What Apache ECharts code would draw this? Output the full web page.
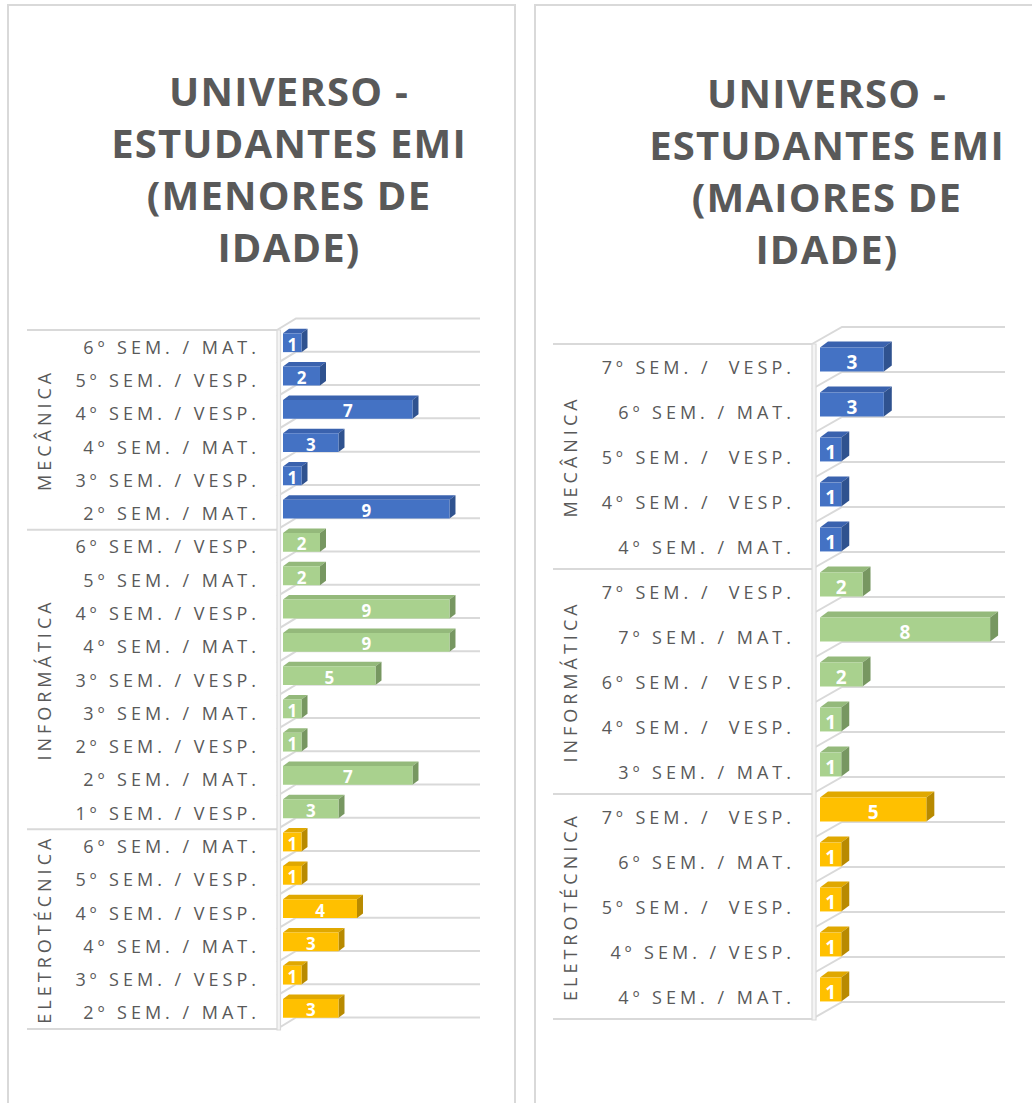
<!DOCTYPE html>
<html lang="pt">
<head>
<meta charset="UTF-8">
<title>Universo - Estudantes EMI</title>
<script src="https://cdn.jsdelivr.net/npm/echarts/dist/echarts.min.js"></script>
<style>
    body { margin: 0; background: #fff; }
    .panel { position: absolute; top: 4px; height: 1140px; border: 2px solid #d9d9d9; box-sizing: border-box; }
    #p1 { left: 7px; width: 509px; }
    #p2 { left: 534px; width: 530px; }
    #main { position: absolute; left: 0; top: 0; width: 1032px; height: 1103px; }
    /* spaced lettering like the Excel labels */
    #main text { letter-spacing: 4px; white-space: pre; }
    #main text[style*="bold"] { letter-spacing: 0; }
    #main text[style*="40px"] { letter-spacing: 1.2px; }
</style>
</head>
<body>
<div class="panel" id="p1"></div>
<div class="panel" id="p2"></div>
<div id="main"></div>
<script type="text/javascript">
    // menores de idade
    var leftCategories = ['6º SEM. / MAT.', '5º SEM. / VESP.', '4º SEM. / VESP.', '4º SEM. / MAT.', '3º SEM. / VESP.', '2º SEM. / MAT.',
        '6º SEM. / VESP.', '5º SEM. / MAT.', '4º SEM. / VESP.', '4º SEM. / MAT.', '3º SEM. / VESP.', '3º SEM. / MAT.',
        '2º SEM. / VESP.', '2º SEM. / MAT.', '1º SEM. / VESP.',
        '6º SEM. / MAT.', '5º SEM. / VESP.', '4º SEM. / VESP.', '4º SEM. / MAT.', '3º SEM. / VESP.', '2º SEM. / MAT.'];
    var leftValues = [1, 2, 7, 3, 1, 9, 2, 2, 9, 9, 5, 1, 1, 7, 3, 1, 1, 4, 3, 1, 3];
    var leftGroupSizes = [6, 9, 6];

    // maiores de idade
    var rightCategories = ['7º SEM. /  VESP.', '6º SEM. / MAT.', '5º SEM. /  VESP.', '4º SEM. /  VESP.', '4º SEM. / MAT.',
        '7º SEM. /  VESP.', '7º SEM. / MAT.', '6º SEM. /  VESP.', '4º SEM. /  VESP.', '3º SEM. / MAT.',
        '7º SEM. /  VESP.', '6º SEM. / MAT.', '5º SEM. /  VESP.', '4º SEM. / VESP.', '4º SEM. / MAT.'];
    var rightValues = [3, 3, 1, 1, 1, 2, 8, 2, 1, 1, 5, 1, 1, 1, 1];
    var rightGroupSizes = [5, 5, 5];

    var groupNames = ['MECÂNICA', 'INFORMÁTICA', 'ELETROTÉCNICA'];
    var leftTitle = 'UNIVERSO -\nESTUDANTES EMI\n(MENORES DE\nIDADE)';
    var rightTitle = 'UNIVERSO -\nESTUDANTES EMI\n(MAIORES DE\nIDADE)';

    var palette = [
        {front: '#4472C4', top: '#3A62AE', side: '#2F528F'},
        {front: '#A9D18E', top: '#94B97B', side: '#779761'},
        {front: '#FFC000', top: '#E0A800', side: '#B88A00'}
    ];
    var textColor = '#595959';
    var font = 'Open Sans';

    function makeRender(cfg, groupSizes) {
        var starts = [], acc = 0;
        groupSizes.forEach(function (n) { starts.push(acc); acc += n; });
        var total = acc;
        function groupOf(i) {
            var g = 0;
            while (g + 1 < starts.length && i >= starts[g + 1]) g++;
            return g;
        }
        return function (params, api) {
            var i = api.value(1);
            var v = api.value(0);
            var base = api.coord([0, i]);
            var end = api.coord([v, i]);
            var band = api.size([0, 1])[1];
            var cs = params.coordSys;
            var x0 = base[0], yc = base[1], x1 = end[0];
            var right = cs.x + cs.width;
            var wallX = x0 - cfg.wallGap - cfg.wallW;
            var g = groupOf(i);
            var col = palette[g];
            var kids = [];
            var line = {stroke: '#d9d9d9', lineWidth: 2, fill: null};

            function gridAt(yb) {
                kids.push({type: 'polyline', z2: 1, style: line,
                    shape: {points: [[wallX, yb], [x0 + cfg.wallDx, yb - cfg.wallDy], [right, yb - cfg.wallDy]]}});
            }
            function sepAt(yb) {
                kids.push({type: 'line', z2: 1, style: line,
                    shape: {x1: cfg.sepLeft, y1: yb, x2: wallX, y2: yb}});
            }
            var yTop = yc - band / 2, yBot = yc + band / 2;
            if (i === 0) {
                gridAt(yTop);
                kids.push({type: 'rect', z2: 2,
                    shape: {x: wallX, y: cs.y, width: cfg.wallW, height: cs.height + 1},
                    style: {fill: '#f4f4f4', stroke: '#d9d9d9', lineWidth: 1.2}});
            }
            gridAt(yBot);
            if (starts.indexOf(i) >= 0) {
                sepAt(yTop);
                kids.push({type: 'text', z2: 3, x: cfg.groupX, y: yTop + groupSizes[g] * band / 2,
                    rotation: Math.PI / 2,
                    style: {text: groupNames[g], fill: textColor, fontSize: 18, fontFamily: font,
                        textAlign: 'center', textVerticalAlign: 'middle'}});
            }
            if (i === total - 1) sepAt(yBot);

            // 3D bar: top face, side face, front face
            var top = yc - cfg.faceUp * band, bot = yc + cfg.faceDown * band;
            var dx = cfg.depthX, dy = cfg.depthY;
            kids.push({type: 'polygon', z2: 10, style: {fill: col.top},
                shape: {points: [[x0, top], [x0 + dx, top - dy], [x1 + dx, top - dy], [x1, top]]}});
            kids.push({type: 'polygon', z2: 10, style: {fill: col.side},
                shape: {points: [[x1, top], [x1 + dx, top - dy], [x1 + dx, bot - dy], [x1, bot]]}});
            kids.push({type: 'rect', z2: 11, style: {fill: col.front},
                shape: {x: x0, y: top, width: x1 - x0, height: bot - top}});
            kids.push({type: 'text', z2: 12, x: (x0 + x1) / 2, y: (top + bot) / 2 + cfg.labelDy,
                style: {text: String(v), fill: '#fff', fontSize: cfg.labelSize, fontWeight: 'bold',
                    fontFamily: font, textAlign: 'center', textVerticalAlign: 'middle'}});
            return {type: 'group', children: kids};
        };
    }

    var leftCfg = {sepLeft: 27, groupX: 43.5, wallGap: 2.5, wallW: 3.5, wallDx: 13, wallDy: 11.5,
        faceUp: 0.40, faceDown: 0.165, depthX: 6, depthY: 4.5, labelDy: 1.5, labelSize: 17};
    var rightCfg = {sepLeft: 553, groupX: 569.5, wallGap: 4, wallW: 4, wallDx: 22, wallDy: 17,
        faceUp: 0.42, faceDown: 0.11, depthX: 8, depthY: 6, labelDy: 2, labelSize: 19};

    function catAxis(idx, cats, margin) {
        return {
            type: 'category', gridIndex: idx, inverse: true, data: cats,
            axisLine: {show: false}, axisTick: {show: false}, splitLine: {show: false},
            axisLabel: {interval: 0, margin: margin, color: textColor, fontSize: 18, fontFamily: font}
        };
    }
    function valAxis(idx, max) {
        return {type: 'value', gridIndex: idx, min: 0, max: max, show: false, splitLine: {show: false}};
    }

    var myChart = echarts.init(document.getElementById('main'), null, {renderer: 'svg'});
    var option = {
        animation: false,
        backgroundColor: 'transparent',
        grid: [
            {left: 283, top: 330, width: 197, height: 699},
            {left: 820, top: 344, width: 185, height: 675}
        ],
        xAxis: [valAxis(0, 10.65), valAxis(1, 8.7)],
        yAxis: [catAxis(0, leftCategories, 23), catAxis(1, rightCategories, 25)],
        graphic: [
            {type: 'text', x: 289, y: 64, style: {text: leftTitle, fill: textColor, fontSize: 40, fontWeight: 'bold',
                fontFamily: font, textAlign: 'center', textVerticalAlign: 'top', lineHeight: 52}},
            {type: 'text', x: 827, y: 66, style: {text: rightTitle, fill: textColor, fontSize: 40, fontWeight: 'bold',
                fontFamily: font, textAlign: 'center', textVerticalAlign: 'top', lineHeight: 52}}
        ],
        series: [
            {type: 'custom', xAxisIndex: 0, yAxisIndex: 0, clip: false, encode: {x: 0, y: 1},
                renderItem: makeRender(leftCfg, leftGroupSizes),
                data: leftValues.map(function (v, i) { return [v, i]; })},
            {type: 'custom', xAxisIndex: 1, yAxisIndex: 1, clip: false, encode: {x: 0, y: 1},
                renderItem: makeRender(rightCfg, rightGroupSizes),
                data: rightValues.map(function (v, i) { return [v, i]; })}
        ]
    };
    myChart.setOption(option);
</script>
</body>
</html>
